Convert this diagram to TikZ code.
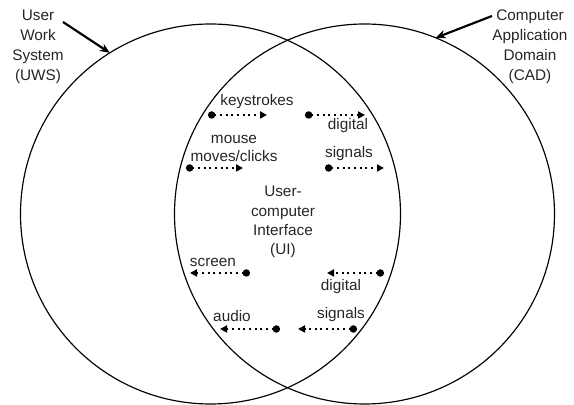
\documentclass[tikz,border=0pt]{standalone}
\usepackage{fontspec}
\setmainfont{Liberation Sans}
\usetikzlibrary{arrows.meta}
\tikzset{
  lbl/.style={font=\fontsize{9.2}{12}\selectfont,align=center,inner sep=0pt,text=black!85},
  ring/.style={draw,circle,line width=0.7pt,minimum size=228pt,inner sep=0pt,outer sep=0pt},
  callout/.style={-{Stealth[length=6pt,width=5pt]},line width=1.3pt},
  flow/.style={line width=1.2pt,dash pattern=on 1.2pt off 2.2pt,
    {Circle[length=4.4pt]}-{Triangle[length=4.2pt,width=4.2pt]}}
}

\begin{document}
\begin{tikzpicture}[x=0.6pt,y=-0.6pt]  % 1 unit = 1 px of the sketch, y down
  \useasboundingbox (0,0) rectangle (574,405);
  % ---- the two domains
  \node[ring] (uws) at (210.5,214) {};
  \node[ring] (cad) at (364.5,214) {};
  \node[lbl] (uwslbl) at (38,47) {User\\Work\\System\\(UWS)};
  \node[lbl] (cadlbl) at (530,47) {Computer\\Application\\Domain\\(CAD)};
  \coordinate (uwstail) at (63,22);
  \coordinate (cadtail) at (492,16);
  \draw[callout] (uwstail) -- (uws.122);
  \draw[callout] (cadtail) -- (cad.68);
  % ---- the overlap
  \node[lbl,font=\fontsize{9.2}{11.6}\selectfont] (ui) at (283,222) {User-\\computer\\Interface\\(UI)};
  \node[lbl] (keys) at (257,102) {keystrokes};
  \node[lbl] (digin) at (348,126) {digital};
  \node[lbl,font=\fontsize{9.2}{10.8}\selectfont] (mouse) at (234,148) {mouse\\moves/clicks};
  \node[lbl] (sigin) at (349,154) {signals};
  \node[lbl] (screen) at (213,262) {screen};
  \node[lbl] (digout) at (341,287) {digital};
  \node[lbl] (audio) at (232,316) {audio};
  \node[lbl] (sigout) at (341,315) {signals};
  % ---- dotted flows, dot at the start
  \foreach \nm/\xa/\xb/\y in {ks/208/267/115, dgi/305/365/115,
      mc/186/243/168, sgi/325/384/168,
      sc/250/190/273, dgo/384/327/273,
      au/280/220/329, sgo/357/298/329}{
    \coordinate (\nm-a) at (\xa,\y);
    \coordinate (\nm-b) at (\xb,\y);
    \draw[flow] (\nm-a) -- (\nm-b);
  }
\end{tikzpicture}
\end{document}
